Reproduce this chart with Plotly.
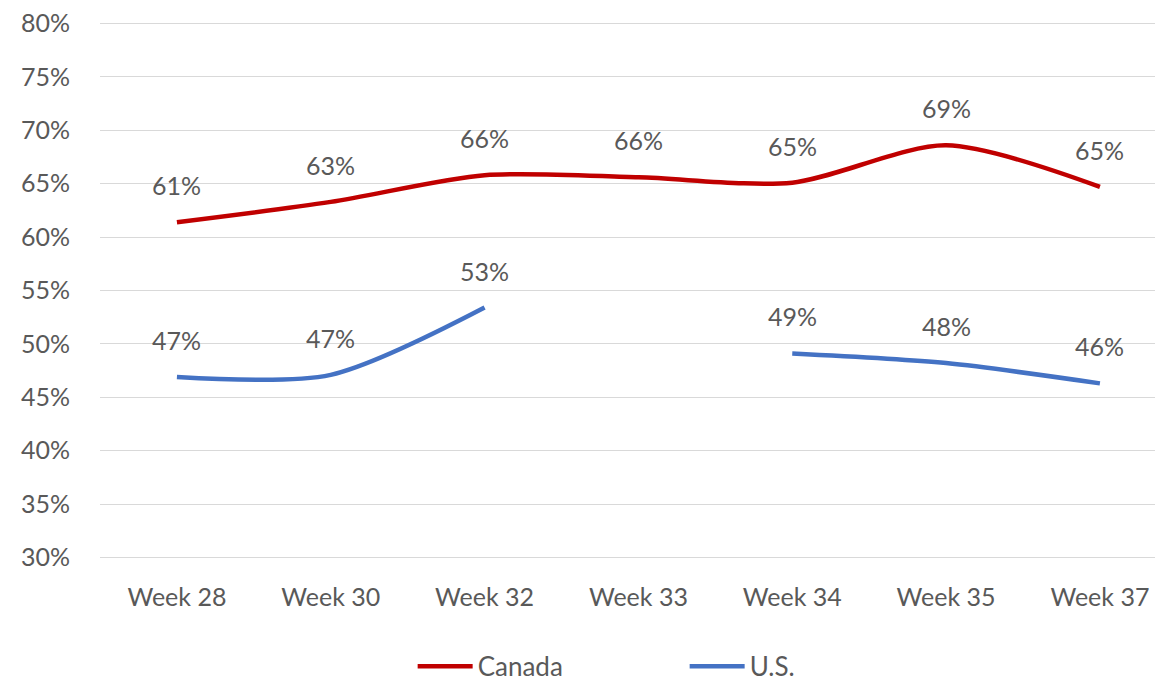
import plotly.graph_objects as go

weeks = ["Week 28", "Week 30", "Week 32", "Week 33", "Week 34", "Week 35", "Week 37"]
canada = [61.4, 63.3, 65.8, 65.6, 65.1, 68.6, 64.7]
us = [46.9, 47.1, 53.4, None, 49.1, 48.2, 46.3]
canada_labels = ["61%", "63%", "66%", "66%", "65%", "69%", "65%"]
us_labels = ["47%", "47%", "53%", "", "49%", "48%", "46%"]
yticks = [30, 35, 40, 45, 50, 55, 60, 65, 70, 75, 80]

FONT = "Lato, 'Noto Sans', sans-serif"
GRAY = "#595959"
FS = 25

fig = go.Figure()
fig.add_trace(go.Scatter(x=weeks, y=canada, mode="lines", name="Canada",
                         line=dict(color="#C00000", width=4.5, shape="spline", smoothing=0.8)))
fig.add_trace(go.Scatter(x=weeks, y=us, mode="lines", name="U.S.", connectgaps=False,
                         line=dict(color="#4472C4", width=4.5, shape="spline", smoothing=0.8)))

for vals, labs in ((canada, canada_labels), (us, us_labels)):
    for w, v, t in zip(weeks, vals, labs):
        if v is None or not t:
            continue
        fig.add_annotation(x=w, y=v, text=t, showarrow=False, yanchor="middle", yshift=37,
                           font=dict(family=FONT, size=FS, color=GRAY))

fig.update_layout(
    width=1163, height=686,
    margin=dict(l=92, r=8, t=14, b=135, autoexpand=False),
    paper_bgcolor="white", plot_bgcolor="white",
    font=dict(family=FONT, size=FS, color=GRAY),
    showlegend=True,
    legend=dict(orientation="h", x=0.55, xanchor="center", y=-0.20, yanchor="middle",
                font=dict(family=FONT, size=26, color=GRAY),
                entrywidth=202, entrywidthmode="pixels", itemwidth=55,
                bgcolor="rgba(0,0,0,0)"),
)
fig.update_xaxes(type="category", range=[-0.5, 6.41], showgrid=False, showline=False,
                 automargin=False,
                 ticks="outside", ticklen=16, tickcolor="rgba(0,0,0,0)",
                 tickfont=dict(family=FONT, size=FS, color=GRAY))
fig.update_yaxes(range=[29.85, 80.15], tickvals=yticks, ticktext=[f"{v}%" for v in yticks],
                 automargin=False, ticklabeloverflow="allow",
                 showgrid=True, gridcolor="#D9D9D9", gridwidth=1, zeroline=False,
                 showline=False, ticks="outside", ticklen=24, tickcolor="rgba(0,0,0,0)",
                 tickfont=dict(family=FONT, size=FS, color=GRAY))

fig.write_html("out.html")
